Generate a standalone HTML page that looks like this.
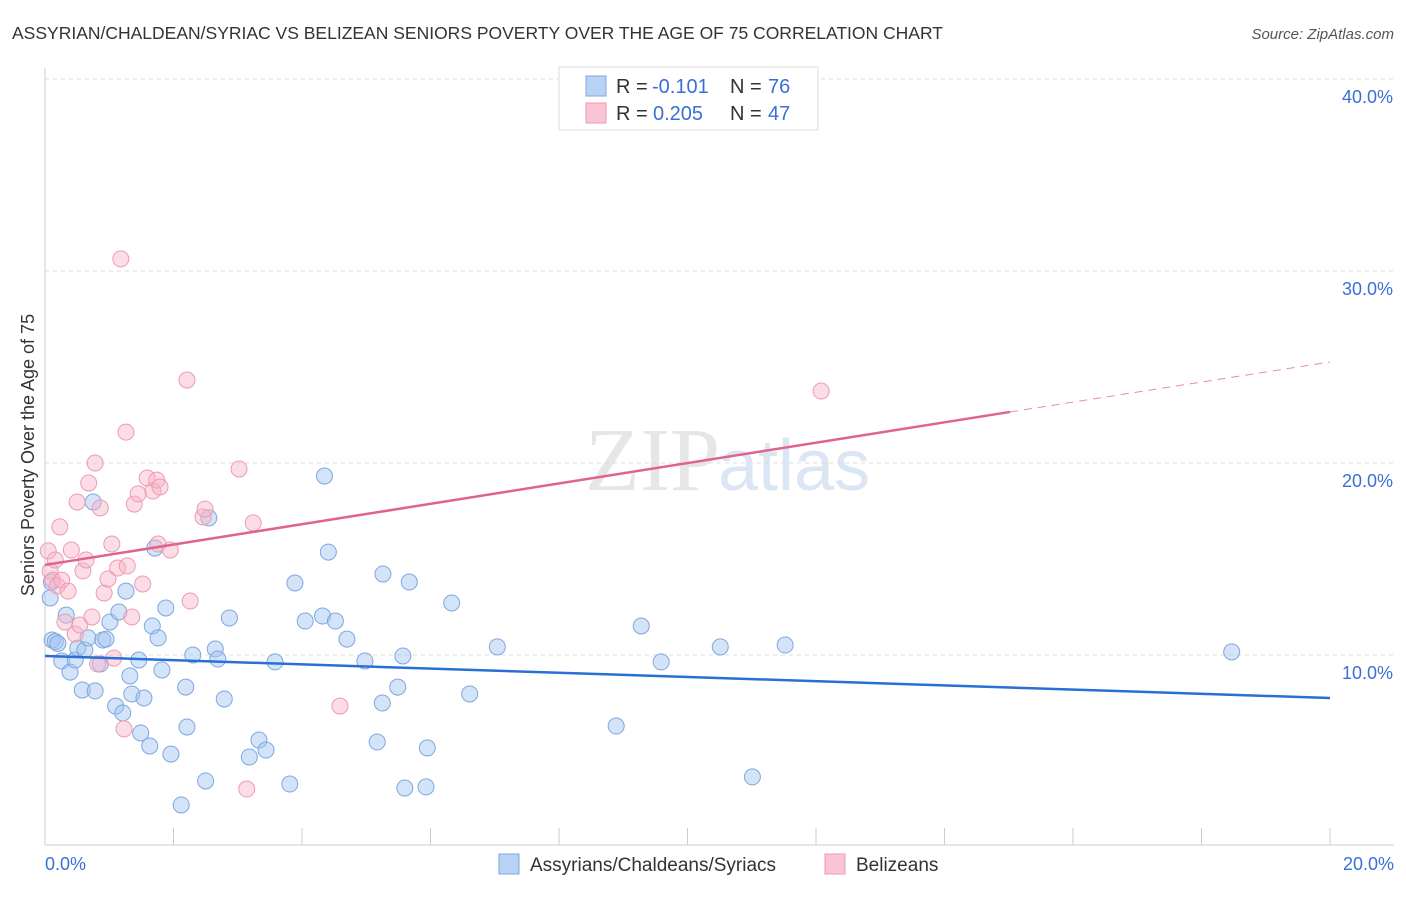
<!DOCTYPE html>
<html><head><meta charset="utf-8"><style>
body{margin:0;background:#fff;font-family:"Liberation Sans",sans-serif}
</style></head><body>
<svg id="c" width="1406" height="892" xmlns="http://www.w3.org/2000/svg" style="font-family:'Liberation Sans',sans-serif">
<text x="12" y="39" font-size="17.5" fill="#333">ASSYRIAN/CHALDEAN/SYRIAC VS BELIZEAN SENIORS POVERTY OVER THE AGE OF 75 CORRELATION CHART</text>
<text x="1394" y="39" font-size="15" fill="#555" font-style="italic" text-anchor="end">Source: ZipAtlas.com</text>
<text x="720" y="490" font-size="90" fill="#e6e6e6" text-anchor="end" font-family="Liberation Serif">ZIP</text>
<text x="718" y="490" font-size="72" fill="#dbe6f5">atlas</text>
<g id="grid"></g><g id="pts"></g><g id="lines"></g>
<text x="34" y="455" font-size="18" fill="#333" text-anchor="middle" transform="rotate(-90 34 455)">Seniors Poverty Over the Age of 75</text>
<text x="45" y="870" font-size="18" fill="#3a6fd8">0.0%</text>
<text x="1394" y="870" font-size="18" fill="#3a6fd8" text-anchor="end">20.0%</text>
<g>
<rect x="559" y="67" width="259" height="63" fill="#fff" stroke="#ddd"/>
<rect x="586" y="76" width="20" height="20" fill="#b9d1f3" stroke="#7fa6e0"/>
<rect x="586" y="103" width="20" height="20" fill="#f9c4d4" stroke="#ec9ab3"/>
<text x="616" y="93" font-size="20" fill="#333">R =</text>
<text x="652" y="93" font-size="20" fill="#3a6fd8">-0.101</text>
<text x="730" y="93" font-size="20" fill="#333">N =</text>
<text x="768" y="93" font-size="20" fill="#3a6fd8">76</text>
<text x="616" y="120" font-size="20" fill="#333">R =</text>
<text x="653" y="120" font-size="20" fill="#3a6fd8">0.205</text>
<text x="730" y="120" font-size="20" fill="#333">N =</text>
<text x="768" y="120" font-size="20" fill="#3a6fd8">47</text>
</g>
<g>
<rect x="499" y="854" width="20" height="20" fill="#b9d1f3" stroke="#7fa6e0"/>
<text x="530" y="871" font-size="19" fill="#333">Assyrians/Chaldeans/Syriacs</text>
<rect x="825" y="854" width="20" height="20" fill="#f9c4d4" stroke="#ec9ab3"/>
<text x="856" y="871" font-size="19" fill="#333">Belizeans</text>
</g>
</svg>
<script>
const yTicks=[10,20,30,40];
const blueX=[0.11,0.16,0.2,0.08,0.1,0.26,0.33,0.39,0.47,0.51,0.58,0.62,0.67,0.75,0.78,0.86,0.9,0.95,1.01,1.1,1.15,1.21,1.26,1.32,1.35,1.46,1.49,1.54,1.63,1.67,1.71,1.76,1.82,1.88,1.96,2.12,2.19,2.21,2.3,2.5,2.55,2.65,2.69,2.79,2.87,3.18,3.33,3.44,3.58,3.81,3.89,4.05,4.32,4.35,4.41,4.52,4.7,4.98,5.17,5.25,5.26,5.49,5.57,5.6,5.67,5.93,5.95,6.33,6.61,7.04,8.89,9.28,9.59,10.51,11.01,11.52,18.47];
const blueY=[10.78,10.7,10.6,12.97,13.8,9.69,12.08,9.11,9.74,10.36,8.18,10.26,10.89,17.97,8.13,9.53,10.78,10.83,11.72,7.34,12.24,6.98,13.33,8.91,7.97,9.74,5.94,7.76,5.26,11.51,15.57,10.89,9.22,12.45,4.84,2.19,8.33,6.25,10.0,3.44,17.14,10.31,9.79,7.71,11.93,4.69,5.57,5.05,9.64,3.28,13.75,11.77,12.03,19.32,15.36,11.77,10.83,9.69,5.47,7.5,14.22,8.33,9.95,3.07,13.8,3.13,5.16,12.71,7.97,10.42,6.3,11.51,9.64,10.42,3.65,10.52,10.16];
const pinkX=[0.05,0.08,0.12,0.16,0.19,0.23,0.26,0.31,0.36,0.41,0.47,0.5,0.54,0.59,0.64,0.68,0.73,0.78,0.86,0.82,0.92,0.98,1.04,1.07,1.13,1.18,1.23,1.26,1.28,1.35,1.39,1.45,1.52,1.59,1.68,1.74,1.79,1.76,1.95,2.21,2.26,2.46,2.49,3.02,3.14,3.24,4.59,12.08];
const pinkY=[15.42,14.38,13.9,14.95,13.6,16.67,13.9,11.72,13.33,15.47,11.09,17.97,11.56,14.38,14.95,18.96,11.98,20.0,17.66,9.53,13.23,13.96,15.78,9.84,14.53,30.63,6.15,21.61,14.64,11.98,17.86,18.39,13.7,19.22,18.54,19.11,18.75,15.78,15.47,24.32,12.81,17.19,17.6,19.69,3.02,16.88,7.34,23.75];
const blueTrend=[[0,9.95],[20,7.76]];
const pinkTrend=[[0,14.69],[15.02,22.66]];
const pinkDash=[[15.02,22.66],[20,25.26]];
const NS='http://www.w3.org/2000/svg';
const sx=v=>45+v/20*1285, sy=v=>847-v*19.2;
function mk(t,a,p){const e=document.createElementNS(NS,t);for(const k in a)e.setAttribute(k,a[k]);p.appendChild(e);return e;}
const g=document.getElementById('grid');
yTicks.forEach(t=>{
 const l=mk('line',{x1:45,x2:1394,y1:sy(t),y2:sy(t),stroke:'#ddd','stroke-dasharray':'4,4'},g);
 
 
 const tx=mk('text',{x:1393,y:sy(t)+24,'font-size':18,fill:'#3a6fd8','text-anchor':'end'},g);
 tx.textContent=t.toFixed(1)+'%';
 
 
});
const ax=mk('line',{x1:45,x2:1394,y1:845,y2:845,stroke:'#ccc'},g);


const ay=mk('line',{x1:45,x2:45,y1:68,y2:845,stroke:'#ccc'},g);


for(let i=0;i<=10;i++){const t=mk('line',{x1:sx(i*2),x2:sx(i*2),y1:828,y2:845,stroke:'#ccc'},g);
 
 }
const P=document.getElementById('pts');
blueX.forEach((x,i)=>{const c=mk('circle',{cx:sx(x),cy:sy(blueY[i]),r:8,fill:'rgba(160,195,240,0.45)',stroke:'#7fa6e0','stroke-width':1},P);
 
 });
pinkX.forEach((x,i)=>{const c=mk('circle',{cx:sx(x),cy:sy(pinkY[i]),r:8,fill:'rgba(248,180,200,0.45)',stroke:'#ec9ab3','stroke-width':1},P);
 
 });
const L=document.getElementById('lines');
function ln(d,col,dash,name){const e=mk('line',{x1:sx(d[0][0]),y1:sy(d[0][1]),x2:sx(d[1][0]),y2:sy(d[1][1]),stroke:col,'stroke-width':dash?1:2.5},L);
 if(dash)e.setAttribute('stroke-dasharray','8,6');
 
 }
ln(blueTrend,'#2a6fd6',false,'assyrian-trend-line');
ln(pinkTrend,'#e0628e',false,'belizean-trend-line');
ln(pinkDash,'#e88aab',true,'belizean-trend-extension');
</script>
</body></html>
